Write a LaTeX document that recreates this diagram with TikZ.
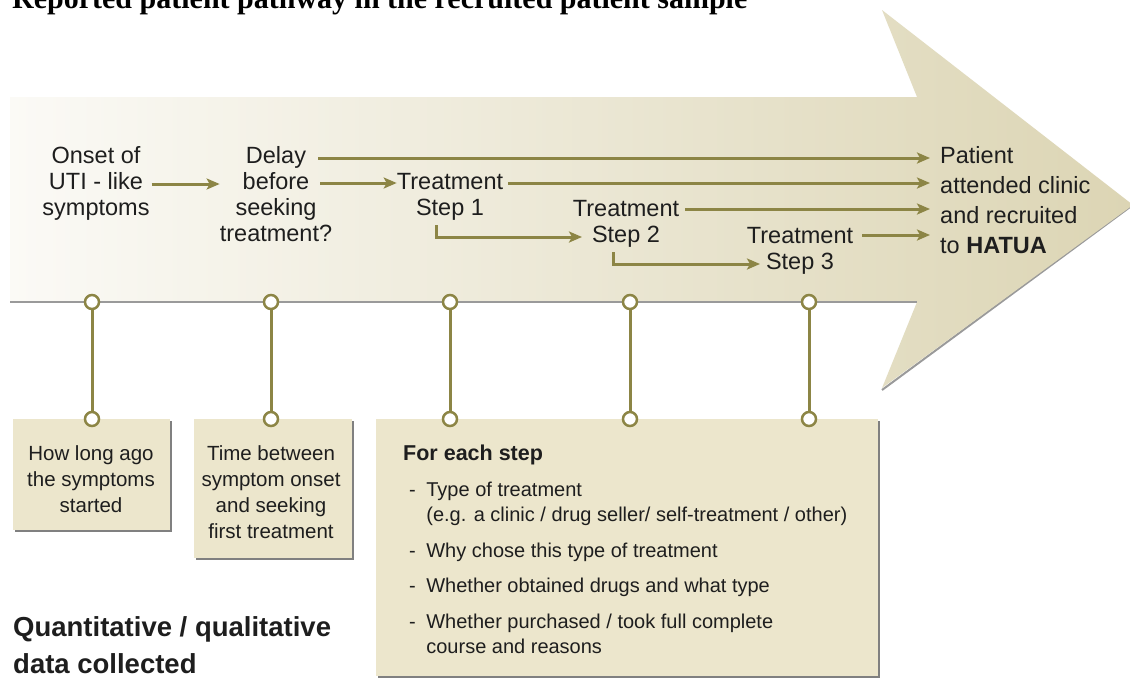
\documentclass[tikz,border=0pt]{standalone}
\usepackage{fontspec}
\setmainfont{Liberation Sans}
\newfontfamily\titlefont{Liberation Serif}
\usetikzlibrary{arrows.meta,shadows}
\definecolor{olivec}{HTML}{8C8545}
\definecolor{boxc}{HTML}{ECE6CC}
\definecolor{headc}{HTML}{DCD5B4}
\definecolor{lightc}{HTML}{FBFAF6}
\definecolor{txtc}{HTML}{1E1E1E}
\definecolor{linec}{HTML}{9A9A9A}
\newcommand\tstack[2][c]{\begin{tabular}[t]{@{}#1@{}}#2\end{tabular}}
\tikzset{
  lbl/.style={inner sep=0pt, text=txtc, font=\fontsize{23.5}{26.3}\selectfont},
  boxtxt/.style={inner sep=0pt, text=txtc, font=\fontsize{20.5}{26}\selectfont},
  flow/.style={draw=olivec, line width=3pt, -{Stealth[length=13pt,width=11pt,inset=3pt]}},
  ring/.style={circle, draw=olivec, line width=2.5pt, fill=white, minimum size=14pt, inner sep=0pt},
  stem/.style={draw=olivec, line width=3pt},
  infobox/.style={fill=boxc, inner sep=0pt, anchor=north west,
    drop shadow={shadow xshift=1.8pt, shadow yshift=-1.8pt, fill=black!50, opacity=1}},
}
\begin{document}
\begin{tikzpicture}[x=1pt,y=-1pt]
\useasboundingbox (0,0) rectangle (1130,678);
\clip (0,0) rectangle (1130,678);
\fill[white] (0,0) rectangle (1130,678);

% clipped title at the very top
\node[anchor=base west, inner sep=0pt, text=black, font=\titlefont\bfseries\fontsize{30}{34}\selectfont] (title) at (12,8) {Reported patient pathway in the recruited patient sample};

% big arrow
\draw[linec, line width=2pt] (1130,207) -- (882,390);
\shade[left color=lightc, right color=headc]
  (10,97) -- (917,97) -- (882,10) -- (1133,205) -- (882,388) -- (917,302) -- (10,302) -- cycle;
\draw[linec, line width=1.5pt] (10,302) -- (917,302);

% top labels
\node[lbl, anchor=base] (onset) at (96,163) {\tstack{Onset of\\UTI - like\\symptoms}};
\node[lbl, anchor=base] (delay) at (276,163) {\tstack{Delay\\before\\seeking\\treatment?}};
\node[lbl, anchor=base] (t1) at (450,189) {\tstack{Treatment\\Step 1}};
\node[lbl, anchor=base] (t2) at (626,216) {\tstack{Treatment\\Step 2}};
\node[lbl, anchor=base] (t3) at (800,243) {\tstack{Treatment\\Step 3}};
\node[lbl, anchor=base west, font=\fontsize{23.5}{30}\selectfont] (patient) at (940,163)
  {\tstack[l]{Patient\\attended clinic\\and recruited\\to \textbf{HATUA}}};

% connectors
\coordinate (dl) at (318,158);
\coordinate (bf) at (320,183);
\coordinate (s1) at (436,225);
\coordinate (e1) at (582,237);
\coordinate (t2l) at (685,209);
\coordinate (s2) at (613,252);
\coordinate (e2) at (760,264);
\coordinate (t3l) at (862,235);
\draw[flow, shorten <=2pt] (onset.east |- 0,184) -- (delay.west |- 0,184);
\draw[flow, shorten >=10pt] (dl) -- (patient.west |- dl);
\draw[flow] (bf) -- (t1.west |- bf);
\draw[flow, shorten <=5pt, shorten >=10pt] (t1.east |- bf) -- (patient.west |- bf);
\draw[flow] (s1) |- (e1);
\draw[flow, shorten >=10pt] (t2l) -- (patient.west |- t2l);
\draw[flow] (s2) |- (e2);
\draw[flow, shorten >=10pt] (t3l) -- (patient.west |- t3l);

% boxes
\node[infobox, minimum width=157pt, minimum height=111pt] (b1) at (13,419) {};
\node[infobox, minimum width=158pt, minimum height=139pt] (b2) at (194,419) {};
\node[infobox, minimum width=502pt, minimum height=257pt] (b3) at (376,419) {};

% rings and stems
\foreach \x/\n in {92/1, 271/2, 450/3, 630/4, 809/5}{
  \node[ring] (u\n) at (\x,302) {};
  \node[ring] (d\n) at (\x,419) {};
  \draw[stem] (u\n) -- (d\n);
}

% box texts
\node[boxtxt, anchor=base] (q1) at (91,460) {\tstack{How long ago\\the symptoms\\started}};
\node[boxtxt, anchor=base] (q2) at (271,460) {\tstack{Time between\\symptom onset\\and seeking\\first treatment}};
\node[inner sep=0pt, anchor=base west, text=txtc, font=\bfseries\fontsize{21.5}{26}\selectfont] (head) at (403,460) {For each step};
\node[inner sep=0pt, anchor=base west, text=txtc, font=\fontsize{20}{25.5}\selectfont] (items) at (409,496)
  {\begin{tabular}[t]{@{}l@{\hspace{10.5pt}}l@{}}
   - & Type of treatment\\
     & (e.g. a clinic / drug seller/ self-treatment / other)\\[10pt]
   - & Why chose this type of treatment\\[10pt]
   - & Whether obtained drugs and what type\\[10pt]
   - & Whether purchased / took full complete\\
     & course and reasons
   \end{tabular}};

\node[inner sep=0pt, anchor=base west, text=txtc, font=\bfseries\fontsize{27.5}{37}\selectfont] (qq) at (13,636)
  {\tstack[l]{Quantitative / qualitative\\data collected}};
\end{tikzpicture}
\end{document}
